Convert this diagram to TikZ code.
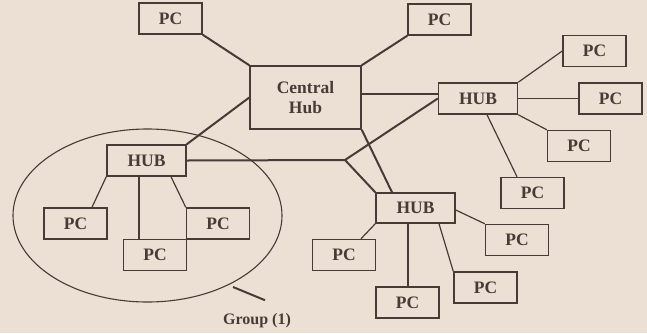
\documentclass[tikz,border=0pt]{standalone}
\usepackage{fontspec}
\setmainfont{Liberation Serif}
\usetikzlibrary{calc,shapes.geometric}
\definecolor{paper}{RGB}{236,224,212}
\definecolor{ink}{RGB}{72,58,54}
\tikzset{
  box/.style={draw=ink,line width=1.5pt,fill=paper,inner sep=0pt,text=ink,
    font=\fontsize{17.5}{20}\selectfont\bfseries,align=center},
  pcbox/.style={box,minimum width=63pt,minimum height=31pt},
  hubbox/.style={box,minimum width=79pt,minimum height=31pt},
  thickwire/.style={draw=ink,line width=2pt},
  thinwire/.style={draw=ink,line width=1.2pt},
}
\begin{document}
\begin{tikzpicture}[x=1pt,y=-1pt]
\fill[paper] (0,0) rectangle (647,333);
\useasboundingbox (0,0) rectangle (647,333);
% group ellipse
\draw[ink,line width=1.1pt] (147.5,215.5) ellipse [x radius=134.5pt, y radius=86.5pt];
% nodes
\node[box,minimum width=111pt,minimum height=63pt] (ch) at (305.5,97.5) {Central\\Hub};
\node[pcbox] (pc1) at (170.5,18.5) {PC};
\node[pcbox] (pc2) at (439.5,19.5) {PC};
\node[hubbox] (hubR) at (478,98.5) {HUB};
\node[pcbox] (pcR1) at (594.5,51) {PC};
\node[pcbox] (pcR2) at (610.5,98.5) {PC};
\node[pcbox] (pcR3) at (579,146) {PC};
\node[pcbox] (pcR4) at (532.5,193) {PC};
\node[hubbox,minimum height=30pt] (hubB) at (415.5,208) {HUB};
\node[pcbox] (pcB1) at (344,255) {PC};
\node[pcbox] (pcB2) at (407.5,302.5) {PC};
\node[pcbox] (pcB3) at (485.5,287.5) {PC};
\node[pcbox] (pcB4) at (517,240) {PC};
\node[hubbox] (hubL) at (146.5,160.5) {HUB};
\node[pcbox] (pcL1) at (75.5,223.5) {PC};
\node[pcbox] (pcL2) at (155,255) {PC};
\node[pcbox] (pcL3) at (218,223.5) {PC};
\node[text=ink,font=\fontsize{16}{18}\selectfont\bfseries] (grp) at (257,321) {Group (1)};
\coordinate (junc) at (345,160);
\coordinate (lead) at (233,287);
% central hub wires
\draw[thickwire] (pc1.south east) -- (ch.north west);
\draw[thickwire] (pc2.south west) -- (ch.north east);
\draw[thickwire] ([yshift=3.5pt]ch.east) -- ([yshift=3.5pt]ch.east -| hubR.west);
\draw[thickwire] (ch.south east) -- ([xshift=-23.5pt]hubB.north);
\draw[thickwire] (hubL.north east) -- (ch.west);
\draw[thickwire] (hubL.east) -- (junc) -- (hubB.north west);
\draw[thickwire] (junc) -- (hubR.west);
% right hub
\draw[thinwire] (hubR.north east) -- (pcR1.west);
\draw[thinwire] (hubR.east) -- (pcR2.west);
\draw[thinwire] (hubR.south east) -- (pcR3.north west);
\draw[thinwire] ([xshift=9pt]hubR.south) -- ([xshift=-15.5pt]pcR4.north);
% bottom hub
\draw[thinwire] (hubB.south west) -- ([xshift=17pt]pcB1.north);
\draw[thinwire] ([xshift=-7.5pt]hubB.south) -- ([xshift=-7.5pt]hubB.south |- pcB2.north);
\draw[thinwire] ([xshift=23.5pt]hubB.south) -- (pcB3.north west);
\draw[thinwire] ([yshift=-2pt]hubB.east) -- (pcB4.north west);
% left hub
\draw[thinwire] (hubL.south west) -- ([xshift=16.5pt]pcL1.north);
\draw[thinwire] ([xshift=-7.5pt]hubL.south) -- ([xshift=-7.5pt]hubL.south |- pcL2.north);
\draw[thinwire] ([xshift=24.5pt]hubL.south) -- (pcL3.north west);
% leader
\draw[thickwire] (lead) -- ([xshift=8pt,yshift=10pt]grp.north);
\end{tikzpicture}
\end{document}
